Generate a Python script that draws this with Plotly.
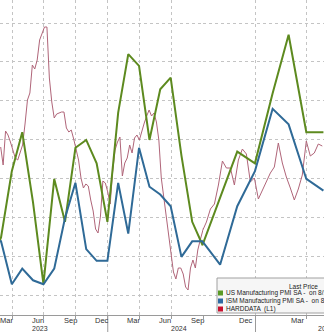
import pandas as pd
import plotly.graph_objects as go

# ---------------- data ----------------
pmi_dates = pd.date_range("2023-01-31", "2025-04-30", freq="ME")
us_pmi = [46.9, 47.5, 49.2, 50.2, 48.4, 46.3, 49.0, 47.9, 49.8, 50.0, 49.4, 47.9,
          50.7, 52.2, 51.9, 50.0, 51.3, 51.6, 49.6, 47.9, 47.3, 48.5, 49.7, 49.4,
          51.2, 52.7, 50.2, 50.2]
ism_pmi = [47.4, 47.4, 46.3, 46.7, 46.4, 46.3, 46.7, 48.0, 48.9, 47.2, 46.9, 46.9,
           48.9, 47.6, 49.8, 48.8, 48.6, 48.3, 47.0, 47.4, 47.4, 46.8, 48.3, 49.2,
           50.8, 50.4, 49.0, 48.7]

hard_start = "2023-02-27"
hard_data = [0.13, -0.05, 0.29, 0.25, 0.18, 0.09, 0.02, 0.00, 0.07, 0.15,
             0.36, 0.60, 0.67, 0.95, 0.91, 1.00, 1.20, 1.27, 1.33, 1.33,
             0.82, 0.58, 0.42, 0.46, 0.47, 0.48, 0.48, 0.32, 0.28, 0.30,
             0.21, 0.11, 0.00, -0.18, -0.28, -0.24, -0.26, -0.40, -0.51, -0.69,
             -0.73, -0.56, -0.21, -0.23, -0.32, -0.44, -0.12, 0.10, 0.18, 0.23,
             -0.16, -0.03, 0.02, 0.15, 0.07, 0.22, 0.25, 0.20, 0.29, 0.37,
             0.44, 0.50, 0.44, 0.47, 0.38, 0.20, -0.18, -0.38, -0.56, -0.73,
             -0.92, -1.12, -1.19, -1.08, -1.08, -1.14, -1.27, -1.30, -1.08, -1.00,
             -1.08, -0.90, -0.80, -0.71, -0.62, -0.49, -0.44, -0.25, -0.01, -0.08,
             -0.08, -0.25, 0.00, 0.11, 0.06, -0.22, -0.18, -0.39, -0.30, -0.21,
             -0.13, -0.07, 0.17, -0.03, -0.17, -0.28, -0.40, -0.29, -0.15, 0.19,
             0.04, 0.07, 0.16, 0.14]
hard_dates = pd.date_range(hard_start, periods=len(hard_data), freq="7D")

month_labels = ["Mar", "Jun", "Sep", "Dec", "Mar", "Jun", "Sep", "Dec", "Mar"]
month_label_dates = ["2023-03-16", "2023-06-15", "2023-09-15", "2023-12-16",
                     "2024-03-16", "2024-06-15", "2024-09-15", "2024-12-16",
                     "2025-03-16"]
grid_left = ["2023-04-01", "2023-07-01", "2023-10-01", "2024-01-01",
             "2024-04-01", "2024-07-01", "2024-10-01"]
grid_right = ["2024-10-01", "2025-01-01", "2025-04-01"]
years = ["2023", "2024", "2025"]

# axis scale break (the time axis is more stretched from Oct-2024)
BREAK = pd.Timestamp("2024-10-01")
LEFT_RANGE = ["2023-02-25", "2024-10-01"]
RIGHT_RANGE = ["2024-10-01", "2025-05-01"]
SPLIT = 203 / 324

GREEN = "#5d8a1f"
BLUE = "#2f6a97"
PINK = "#b06579"
GRID = "#c4c4c4"


def split(dates, vals):
    d = list(pd.to_datetime(dates))
    last_left = max(i for i in range(len(d)) if d[i] < BREAK)
    left = (d[:last_left + 2], list(vals)[:last_left + 2])
    right = (d[last_left:], list(vals)[last_left:])
    return left, right


fig = go.Figure()

(hl, hr) = split(hard_dates, hard_data)
for (xs, ys), xa in ((hl, "x"), (hr, "x2")):
    fig.add_trace(go.Scatter(x=xs, y=ys, xaxis=xa, yaxis="y", mode="lines",
                             line=dict(color=PINK, width=1), showlegend=False))

for vals, col in ((us_pmi, GREEN), (ism_pmi, BLUE)):
    (l, r) = split(pmi_dates, vals)
    for (xs, ys), xa in ((l, "x"), (r, "x2")):
        fig.add_trace(go.Scatter(x=xs, y=ys, xaxis=xa, yaxis="y2", mode="lines",
                                 line=dict(color=col, width=2), showlegend=False))

axis_font = dict(family="Liberation Sans, Arial, sans-serif", size=7.5, color="#333")
common_x = dict(type="date", showgrid=False, ticks="", showline=True,
                linecolor="#9a9a9a", linewidth=1, zeroline=False,
                showticklabels=False, fixedrange=True)

fig.update_layout(
    width=324, height=332,
    margin=dict(l=0, r=0, t=0, b=17),
    paper_bgcolor="white", plot_bgcolor="white",
    showlegend=False,
    xaxis=dict(domain=[0, SPLIT], range=LEFT_RANGE, anchor="y",
               tickmode="array", tickvals=[],
               minor=dict(tickmode="array", tickvals=grid_left, showgrid=True,
                          gridcolor=GRID, griddash="dot", gridwidth=1,
                          ticks="outside", ticklen=3, tickcolor="#9a9a9a"),
               **common_x),
    xaxis2=dict(domain=[SPLIT, 1], range=RIGHT_RANGE, anchor="y",
                tickmode="array", tickvals=[],
                minor=dict(tickmode="array", tickvals=grid_right, showgrid=True,
                           gridcolor=GRID, griddash="dot", gridwidth=1,
                           ticks="outside", ticklen=3, tickcolor="#9a9a9a"),
                **common_x),
    yaxis=dict(range=[-1.55, 1.60], showgrid=False, showticklabels=False,
               ticks="", zeroline=False, showline=False, fixedrange=True),
    yaxis2=dict(range=[45.51, 53.59], overlaying="y", side="right", anchor="x2",
                showgrid=True, gridcolor=GRID, griddash="dot", gridwidth=1,
                tickmode="linear", tick0=46, dtick=1,
                showticklabels=False, ticks="", zeroline=False, showline=False,
                fixedrange=True),
)


def py(ypx):
    return (315 - ypx) / 315


# month labels (centred inside the labelled month)
for txt, d in zip(month_labels, month_label_dates):
    xa = "x" if pd.Timestamp(d) < BREAK else "x2"
    fig.add_annotation(text=txt, xref=xa, yref="paper", x=d, y=py(320),
                       xanchor="center", yanchor="middle", showarrow=False,
                       font=axis_font)

# year separators and year labels
for xa, d in (("x", "2024-01-01"), ("x2", "2025-01-01")):
    fig.add_shape(type="line", xref=xa, yref="paper", x0=d, x1=d, y0=0, y1=-0.06,
                  line=dict(color="#9a9a9a", width=1))
for txt, px in zip(years, (40, 179, 326)):
    fig.add_annotation(text=txt, xref="paper", yref="paper", x=px / 324,
                       y=py(328.5), xanchor="center", yanchor="middle",
                       showarrow=False,
                       font=dict(family=axis_font["family"], size=7, color="#333"))

# legend (Bloomberg style box)
fig.add_shape(type="rect", xref="paper", yref="paper", x0=217 / 324, x1=1.2,
              y0=py(313), y1=py(278), fillcolor="#f6f6f6",
              line=dict(color="#a0a0a0", width=1), layer="above")
leg_font = dict(family="Liberation Sans, Arial, sans-serif", size=6.5, color="#222")
fig.add_annotation(text="Last Price", xref="paper", yref="paper", x=287 / 324,
                   y=py(286), xanchor="left", yanchor="middle", showarrow=False,
                   font=leg_font)
legend_rows = [("US Manufacturing PMI SA -  on 8/1/25", "#5a9a25", 293),
               ("ISM Manufacturing PMI SA -  on 8/1/25", "#2f6aa3", 301),
               ("HARDDATA  (L1)", "#c8102e", 309)]
for txt, col, ypx in legend_rows:
    fig.add_shape(type="rect", xref="paper", yref="paper", x0=218 / 324, x1=223 / 324,
                  y0=py(ypx + 2.5), y1=py(ypx - 2.5), fillcolor=col,
                  line=dict(width=0), layer="above")
    fig.add_annotation(text=txt, xref="paper", yref="paper", x=224 / 324, y=py(ypx),
                       xanchor="left", yanchor="middle", showarrow=False, font=leg_font)

fig.write_html("out.html", config={"displayModeBar": False})
